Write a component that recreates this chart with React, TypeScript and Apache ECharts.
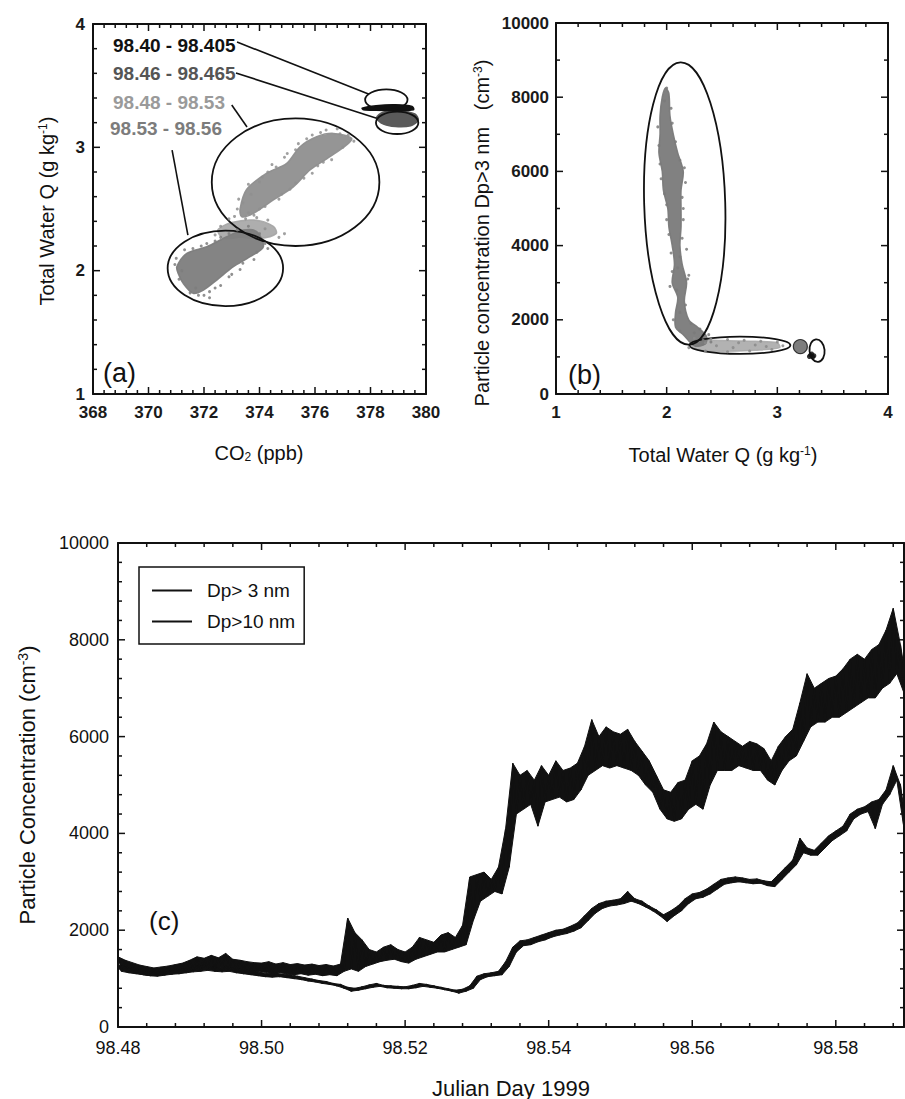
import React, { useEffect, useRef } from "react";
import * as echarts from "echarts";

const FONT = '"Liberation Sans", Arial, Helvetica, sans-serif';
const INK = "#111111";

// ---------------- Panel (a): CO2 vs Total Water Q ----------------
const cloudA_9840: number[][] = [
  [377.7, 3.318], [378.2, 3.338], [378.9, 3.345], [379.5, 3.332], [379.55, 3.305],
  [378.9, 3.298], [378.2, 3.3], [377.75, 3.305],
];
const cloudA_9846: number[][] = [
  [378.22, 3.24], [378.45, 3.285], [379.0, 3.295], [379.6, 3.27], [379.72, 3.22],
  [379.45, 3.175], [378.9, 3.168], [378.45, 3.19],
];
const cloudA_9848: number[][] = [
  [373.3, 2.5], [373.54, 2.66], [374.26, 2.79], [374.98, 2.87], [375.46, 3.005],
  [376.06, 3.086], [376.66, 3.113], [377.32, 3.073], [377.14, 3.02], [376.54, 2.924],
  [375.82, 2.816], [375.22, 2.68], [374.5, 2.573], [373.78, 2.465], [373.36, 2.437],
];
const cloudA_bridge: number[][] = [
  [372.5, 2.33], [373.0, 2.39], [373.8, 2.41], [374.5, 2.36], [374.6, 2.3],
  [374.0, 2.26], [373.3, 2.27], [372.7, 2.26],
];
const cloudA_9853: number[][] = [
  [371.02, 2.032], [371.38, 2.14], [372.1, 2.194], [372.82, 2.275], [373.42, 2.329],
  [373.9, 2.316], [374.14, 2.194], [373.66, 2.113], [373.06, 2.032], [372.46, 1.924],
  [371.98, 1.843], [371.61, 1.816], [371.25, 1.897], [371.07, 1.978],
];
const speckA_9848: number[][] = [
  [373.2, 2.5], [373.4, 2.55], [373.1, 2.44], [373.7, 2.62], [374.0, 2.72], [374.3, 2.8],
  [374.6, 2.84], [374.9, 2.92], [375.3, 2.98], [375.7, 3.07], [376.2, 3.12], [376.9, 3.11],
  [377.4, 3.05], [377.0, 3.0], [376.6, 2.9], [376.1, 2.85], [375.6, 2.75], [375.1, 2.66],
  [374.7, 2.58], [374.2, 2.52], [373.8, 2.45], [373.5, 2.42], [372.9, 2.42], [374.9, 2.3],
  [374.7, 2.27], [372.4, 2.29], [375.9, 3.1], [376.4, 3.14], [373.25, 2.58], [373.6, 2.7],
  [374.1, 2.76], [374.45, 2.86], [375.0, 2.95], [375.4, 3.03], [376.8, 3.15], [377.2, 3.1],
  [376.3, 2.88], [375.9, 2.79], [375.3, 2.71], [374.8, 2.62], [374.0, 2.5], [373.6, 2.47],
  [374.3, 2.41], [373.9, 2.43], [372.6, 2.36], [374.2, 2.34],
];
const speckA_9853: number[][] = [
  [370.95, 2.05], [371.1, 1.93], [371.3, 2.17], [371.5, 1.82], [371.8, 1.8], [372.2, 1.83],
  [372.6, 1.88], [373.0, 1.97], [373.4, 2.06], [373.9, 2.15], [374.2, 2.22], [374.0, 2.3],
  [373.6, 2.36], [372.9, 2.3], [372.4, 2.24], [371.9, 2.2], [371.6, 2.18], [372.2, 1.78],
  [371.0, 2.1], [371.2, 2.0], [371.7, 1.86], [372.0, 1.8], [372.4, 1.86], [372.9, 1.95],
  [373.3, 2.01], [373.8, 2.09], [374.3, 2.18], [373.2, 2.33], [372.6, 2.27], [372.1, 2.22],
];
// ellipses: [cx, cy, rx, ry, rotation]
const ellipsesA: number[][] = [
  [378.57, 3.386, 0.764, 0.0836, 0],
  [378.96, 3.199, 0.764, 0.091, 0],
  [375.3, 2.717, 3.02, 0.517, 0],
  [372.77, 2.019, 2.08, 0.306, 0],
];
// leader lines: [x1, y1, x2, y2]
const leadersA: number[][] = [
  [373.19, 3.854, 377.95, 3.43],
  [373.15, 3.603, 378.22, 3.235],
  [373.0, 3.343, 373.55, 3.165],
  [370.85, 2.978, 371.42, 2.289],
];
const periodLabels = ["98.40 - 98.405", "98.46 - 98.465", "98.48 - 98.53", "98.53 - 98.56"];
const periodColors = ["#111111", "#555555", "#9a9a9a", "#7c7c7c"];

// ---------------- Panel (b): Total Water Q vs particles ----------------
const cloudB_vertical: number[][] = [
  [1.99, 8250], [2.02, 8100], [2.03, 7500], [2.06, 7000], [2.1, 6500], [2.15, 6000],
  [2.13, 5500], [2.13, 5000], [2.13, 4500], [2.12, 4000], [2.14, 3500], [2.18, 3000],
  [2.16, 2500], [2.2, 2000], [2.28, 1800], [2.36, 1550], [2.35, 1350], [2.25, 1300],
  [2.15, 1600], [2.08, 1800], [2.08, 2200], [2.1, 2600], [2.05, 3000], [2.07, 3500],
  [2.05, 4000], [2.02, 4500], [2.01, 5000], [1.97, 5500], [1.96, 6000], [1.93, 6500],
  [1.94, 7000], [1.94, 7500], [1.96, 8000],
];
const cloudB_horizontal: number[][] = [
  [2.25, 1450], [2.5, 1440], [2.8, 1420], [3.0, 1380], [3.02, 1250], [2.8, 1180],
  [2.5, 1150], [2.3, 1180], [2.22, 1300],
];
const speckB_vertical: number[][] = [
  [2.0, 8250], [1.98, 7900], [2.05, 7300], [1.93, 6700], [2.12, 6300], [2.16, 6100],
  [1.95, 5800], [2.14, 5300], [2.0, 5100], [2.15, 4700], [2.02, 4300], [2.18, 3900],
  [2.12, 3700], [2.05, 3300], [2.19, 3100], [2.09, 2800], [2.17, 2400], [2.06, 2000],
  [2.22, 1900], [2.3, 1750], [2.38, 1600], [2.33, 1450], [2.4, 1400], [2.04, 7700],
  [1.92, 7200], [2.08, 6800], [1.94, 6200], [2.17, 5700], [1.98, 5400], [2.15, 5000],
  [2.0, 4700], [2.14, 4200], [2.04, 3800], [2.1, 3400], [2.2, 3200], [2.03, 2900],
  [2.12, 2200], [2.25, 1650], [2.12, 1700],
];
const speckB_horizontal: number[][] = [
  [2.25, 1500], [2.4, 1480], [2.55, 1470], [2.7, 1450], [2.85, 1420], [3.0, 1400],
  [3.05, 1300], [2.95, 1200], [2.75, 1160], [2.55, 1140], [2.35, 1160], [2.2, 1250],
  [2.45, 1300], [2.6, 1250], [2.8, 1320], [2.9, 1280], [2.65, 1380], [2.35, 1380],
];
const markerB_9846: number[][] = [[3.208, 1278]];
const markerB_9840: number[][] = [[3.3, 1050], [3.32, 1000], [3.31, 1080], [3.33, 1030], [3.29, 1010]];
const ellipsesB: number[][] = [
  [2.163, 5135, 0.366, 3806, 0.03],
  [2.662, 1315, 0.456, 234, 0],
  [3.359, 1170, 0.068, 305, 0.1],
];

// ---------------- Panel (c): time series ----------------
const dayStart = 98.48;
const dayStep = 0.0005;
const dp3: number[] = [
  1450, 1200, 1380, 1150, 1330, 1120, 1280, 1080, 1250, 1060,
  1220, 1060, 1240, 1090, 1260, 1100, 1290, 1120, 1320, 1150,
  1380, 1180, 1450, 1200, 1420, 1220, 1480, 1200, 1430, 1250,
  1520, 1220, 1400, 1200, 1380, 1180, 1350, 1150, 1330, 1140,
  1320, 1130, 1350, 1100, 1300, 1120, 1330, 1100, 1290, 1080,
  1310, 1100, 1280, 1070, 1300, 1090, 1270, 1060, 1290, 1080,
  1260, 1060, 1300, 1150, 2250, 1200, 1950, 1150, 1800, 1250,
  1600, 1300, 1550, 1350, 1650, 1380, 1700, 1400, 1600, 1350,
  1550, 1320, 1650, 1400, 1850, 1450, 1800, 1500, 1750, 1550,
  1900, 1550, 1950, 1600, 1850, 1650, 2100, 1700, 3100, 2200,
  3150, 2600, 3200, 2700, 3050, 2800, 3300, 2750, 4100, 3300,
  5450, 4400, 5200, 4500, 5300, 4600, 5100, 4150, 5400, 4650,
  5200, 4700, 5500, 4750, 5300, 4650, 5350, 4700, 5450, 4900,
  5800, 5200, 6350, 5300, 6000, 5400, 6200, 5350, 6100, 5400,
  6050, 5350, 6150, 5300, 5900, 5200, 5700, 5000, 5500, 4850,
  5200, 4500, 4900, 4300, 4850, 4250, 5050, 4300, 5100, 4500,
  5500, 4600, 5600, 4500, 5850, 5000, 6300, 5300, 6100, 5300,
  6000, 5300, 5900, 5400, 5800, 5350, 5900, 5300, 5850, 5300,
  5750, 5100, 5500, 5000, 5800, 5300, 6000, 5500, 6150, 5600,
  6700, 5900, 7300, 6200, 7000, 6300, 7100, 6300, 7200, 6400,
  7250, 6400, 7400, 6500, 7600, 6600, 7700, 6700, 7600, 6800,
  7800, 6800, 7900, 7000, 8200, 7100, 8650, 7300, 7900, 6900,
  7000,
];
const dp10: number[] = [
  1280, 1150, 1250, 1120, 1220, 1100, 1180, 1080, 1150, 1060,
  1130, 1050, 1150, 1070, 1170, 1090, 1180, 1100, 1200, 1120,
  1230, 1140, 1260, 1150, 1280, 1170, 1250, 1150, 1230, 1140,
  1260, 1150, 1220, 1120, 1200, 1100, 1180, 1080, 1150, 1060,
  1120, 1040, 1100, 1030, 1110, 1040, 1090, 1020, 1080, 1000,
  1050, 980, 1020, 950, 990, 930, 960, 900, 940, 880,
  900, 850, 880, 800, 820, 740, 800, 760, 830, 790,
  870, 820, 900, 840, 860, 810, 850, 800, 840, 790,
  830, 790, 860, 810, 900, 840, 880, 820, 850, 800,
  820, 770, 790, 740, 760, 700, 780, 740, 850, 800,
  1050, 980, 1100, 1040, 1120, 1060, 1150, 1080, 1350, 1250,
  1650, 1550, 1780, 1680, 1800, 1700, 1850, 1760, 1900, 1800,
  1950, 1860, 2000, 1900, 2020, 1930, 2080, 1980, 2150, 2050,
  2300, 2200, 2450, 2350, 2550, 2450, 2600, 2500, 2620, 2520,
  2650, 2550, 2800, 2600, 2650, 2550, 2600, 2480, 2500, 2400,
  2420, 2300, 2320, 2180, 2400, 2300, 2500, 2400, 2650, 2550,
  2750, 2650, 2780, 2680, 2850, 2750, 2950, 2850, 3050, 2950,
  3080, 2980, 3100, 3000, 3080, 2980, 3050, 2960, 3060, 2970,
  3020, 2920, 3000, 2900, 3150, 3050, 3300, 3200, 3450, 3350,
  3900, 3600, 3700, 3550, 3650, 3550, 3800, 3700, 3950, 3850,
  4050, 3950, 4150, 4050, 4400, 4300, 4500, 4400, 4550, 4450,
  4650, 4100, 4700, 4600, 4900, 4800, 5400, 5100, 5000, 4100,
  4000,
];
const seriesNames = ["Dp> 3 nm", "Dp>10 nm"];

// axis definitions: [min, max, majorInterval, minorSplit]
const axisA_x = [368, 380, 2, 5];
const axisA_y = [1, 4, 1, 5];
const axisB_x = [1, 4, 1, 5];
const axisB_y = [0, 10000, 2000, 2];
const axisC_x = [98.48, 98.5895, 0.02, 5];
const axisC_y = [0, 10000, 2000, 5];

// ---------------- helpers ----------------
function axis(gridIndex: number, position: string, def: number[], label: any) {
  const [min, max, interval] = def;
  return {
    type: "value",
    gridIndex,
    position,
    min,
    max,
    interval,
    axisLine: { show: true, onZero: false, lineStyle: { color: INK, width: 2 } },
    axisTick: { show: false },
    minorTick: { show: false },
    splitLine: { show: false },
    minorSplitLine: { show: false },
    axisLabel: label ? { show: true, ...label } : { show: false },
  };
}

// inward tick marks on all four sides of a frame, placed through the axes' scales
function tickSeries(xi: number, yi: number, xd: number[], yd: number[]) {
  const items: number[][] = [];
  const MAJ = 7;
  const MIN = 4;
  const walk = (d: number[], fn: (v: number, len: number) => void) => {
    const [min, max, int, split] = d;
    const step = int / split;
    const n = Math.floor((max - min) / step + 1e-6);
    for (let k = 0; k <= n; k++) {
      const v = min + k * step;
      fn(v, k % split === 0 ? MAJ : MIN);
    }
  };
  walk(xd, (v, L) => {
    items.push([v, yd[0], 0, -L]);
    items.push([v, yd[1], 0, L]);
  });
  walk(yd, (v, L) => {
    items.push([xd[0], v, L, 0]);
    items.push([xd[1], v, -L, 0]);
  });
  return {
    type: "custom",
    xAxisIndex: xi,
    yAxisIndex: yi,
    silent: true,
    z: 5,
    data: items,
    renderItem: (_p: any, api: any) => {
      const p = api.coord([api.value(0), api.value(1)]);
      return {
        type: "line",
        shape: { x1: p[0], y1: p[1], x2: p[0] + api.value(2), y2: p[1] + api.value(3) },
        style: { stroke: INK, lineWidth: 1.5 },
      };
    },
  };
}

function polygonSeries(pts: number[][], color: string, xi: number, yi: number, opacity = 1) {
  return {
    type: "custom",
    xAxisIndex: xi,
    yAxisIndex: yi,
    silent: true,
    data: [pts[0]],
    renderItem: (_p: any, api: any) => ({
      type: "polygon",
      shape: { points: pts.map((p) => api.coord(p)), smooth: 0.3 },
      style: { fill: color, stroke: color, lineWidth: 1.5, opacity },
    }),
  };
}

// dense noisy band: alternate samples form upper / lower edges
function bandSeries(vals: number[]) {
  return {
    type: "custom",
    xAxisIndex: 4,
    yAxisIndex: 4,
    silent: true,
    clip: true,
    data: [[dayStart, vals[0]]],
    renderItem: (_p: any, api: any) => {
      const top: number[][] = [];
      const bot: number[][] = [];
      vals.forEach((v, i) => {
        const pt = api.coord([dayStart + i * dayStep, v]);
        (i % 2 === 0 ? top : bot).push(pt);
      });
      return {
        type: "polygon",
        shape: { points: top.concat(bot.reverse()) },
        style: { fill: INK, stroke: INK, lineWidth: 1 },
      };
    },
  };
}

function ellipseSeries(list: number[][], xi: number, yi: number) {
  return {
    type: "custom",
    xAxisIndex: xi,
    yAxisIndex: yi,
    silent: true,
    data: list,
    renderItem: (_p: any, api: any) => {
      const c = api.coord([api.value(0), api.value(1)]);
      const s = api.size([api.value(2), api.value(3)]);
      return {
        type: "ellipse",
        x: c[0],
        y: c[1],
        rotation: api.value(4),
        shape: { cx: 0, cy: 0, rx: s[0], ry: s[1] },
        style: { fill: "none", stroke: INK, lineWidth: 1.8 },
      };
    },
  };
}

function segmentSeries(list: number[][], xi: number, yi: number) {
  return {
    type: "custom",
    xAxisIndex: xi,
    yAxisIndex: yi,
    silent: true,
    data: list,
    renderItem: (_p: any, api: any) => {
      const a = api.coord([api.value(0), api.value(1)]);
      const b = api.coord([api.value(2), api.value(3)]);
      return {
        type: "line",
        shape: { x1: a[0], y1: a[1], x2: b[0], y2: b[1] },
        style: { stroke: INK, lineWidth: 1.6 },
      };
    },
  };
}

function dots(pts: number[][], color: string, xi: number, yi: number, size = 3) {
  return {
    type: "scatter",
    xAxisIndex: xi,
    yAxisIndex: yi,
    silent: true,
    symbol: "circle",
    symbolSize: size,
    itemStyle: { color, opacity: 0.85 },
    data: pts,
  };
}

function text(x: number, y: number, t: string, fontSize: number, opts: any = {}) {
  return {
    type: "text",
    x,
    y,
    rotation: opts.rotation || 0,
    silent: true,
    style: {
      text: t,
      fontSize,
      fontFamily: FONT,
      fontWeight: opts.bold ? "bold" : "normal",
      fill: opts.color || INK,
      align: opts.align || "center",
      verticalAlign: "middle",
      rich: {
        sup: { fontSize: Math.round(fontSize * 0.62), fontFamily: FONT, fill: INK, verticalAlign: "top" },
        sub: { fontSize: Math.round(fontSize * 0.62), fontFamily: FONT, fill: INK, verticalAlign: "bottom" },
      },
    },
  };
}

const tickLabAB = { fontSize: 17, fontWeight: "bold", color: "#1a1a1a", fontFamily: FONT };
const tickLabC = { fontSize: 18, color: INK, fontFamily: FONT };

export default function App() {
  const ref = useRef<HTMLDivElement>(null);
  useEffect(() => {
    document.body.style.margin = "0";
    if (!ref.current) return;
    const chart = echarts.init(ref.current, undefined, { renderer: "svg" });

    const lineC = (vals: number[], name: string, width: number) => ({
      type: "line",
      name,
      xAxisIndex: 4,
      yAxisIndex: 4,
      symbol: "none",
      showSymbol: false,
      silent: true,
      lineStyle: { color: INK, width },
      itemStyle: { color: INK },
      data: vals.map((v, i) => [dayStart + i * dayStep, v]),
    });

    const str = (v: number) => String(v);
    const option: any = {
      animation: false,
      backgroundColor: "#ffffff",
      grid: [
        { left: 93, top: 24, width: 333, height: 370 },
        { left: 556, top: 23, width: 332, height: 371 },
        { left: 118, top: 543, width: 786, height: 484 },
      ],
      xAxis: [
        axis(0, "bottom", axisA_x, { ...tickLabAB, margin: 10, formatter: str }),
        axis(0, "top", axisA_x, null),
        axis(1, "bottom", axisB_x, { ...tickLabAB, margin: 10, formatter: str }),
        axis(1, "top", axisB_x, null),
        axis(2, "bottom", axisC_x, {
          ...tickLabC,
          margin: 12,
          showMaxLabel: false,
          formatter: (v: number) => v.toFixed(2),
        }),
        axis(2, "top", axisC_x, null),
      ],
      yAxis: [
        axis(0, "left", axisA_y, { ...tickLabAB, margin: 8, formatter: str }),
        axis(0, "right", axisA_y, null),
        axis(1, "left", axisB_y, { ...tickLabAB, margin: 7, formatter: str }),
        axis(1, "right", axisB_y, null),
        axis(2, "left", axisC_y, { ...tickLabC, margin: 9, formatter: str }),
        axis(2, "right", axisC_y, null),
      ],
      legend: {
        data: seriesNames,
        orient: "vertical",
        left: 139,
        top: 567,
        selectedMode: false,
        icon: "rect",
        borderColor: INK,
        borderWidth: 1.5,
        borderRadius: 0,
        padding: [14, 9, 13, 13],
        itemGap: 12,
        itemWidth: 40,
        itemHeight: 2,
        textStyle: { fontSize: 19, fontFamily: FONT, color: INK, padding: [0, 0, 0, 10] },
      },
      series: [
        // frames' tick marks
        tickSeries(0, 0, axisA_x, axisA_y),
        tickSeries(2, 2, axisB_x, axisB_y),
        tickSeries(4, 4, axisC_x, axisC_y),
        // (a)
        polygonSeries(cloudA_9848, "#8f8f8f", 0, 0, 0.95),
        polygonSeries(cloudA_bridge, "#a5a5a5", 0, 0, 0.9),
        polygonSeries(cloudA_9853, "#7d7d7d", 0, 0, 0.95),
        polygonSeries(cloudA_9846, "#5a5a5a", 0, 0, 1),
        polygonSeries(cloudA_9840, "#111111", 0, 0, 1),
        dots(speckA_9848, "#8f8f8f", 0, 0, 3),
        dots(speckA_9853, "#7d7d7d", 0, 0, 3),
        ellipseSeries(ellipsesA, 0, 0),
        segmentSeries(leadersA, 0, 0),
        // (b)
        polygonSeries(cloudB_horizontal, "#aaaaaa", 2, 2, 0.9),
        polygonSeries(cloudB_vertical, "#7a7a7a", 2, 2, 0.95),
        dots(speckB_vertical, "#7a7a7a", 2, 2, 3),
        dots(speckB_horizontal, "#8a8a8a", 2, 2, 3),
        {
          type: "scatter",
          xAxisIndex: 2,
          yAxisIndex: 2,
          silent: true,
          symbolSize: 14,
          itemStyle: { color: "#5c5c5c", borderColor: INK, borderWidth: 1.2 },
          data: markerB_9846,
        },
        dots(markerB_9840, "#111111", 2, 2, 5),
        ellipseSeries(ellipsesB, 2, 2),
        // (c)
        bandSeries(dp3),
        bandSeries(dp10),
        lineC(dp3, seriesNames[0], 1.3),
        lineC(dp10, seriesNames[1], 1.3),
      ],
      graphic: [
        // period labels in (a)
        text(113, 45, periodLabels[0], 19, { bold: true, color: periodColors[0], align: "left" }),
        text(113, 73, periodLabels[1], 19, { bold: true, color: periodColors[1], align: "left" }),
        text(113, 102, periodLabels[2], 19, { bold: true, color: periodColors[2], align: "left" }),
        text(110, 128, periodLabels[3], 19, { bold: true, color: periodColors[3], align: "left" }),
        // panel tags
        text(103, 373, "(a)", 27, { align: "left" }),
        text(568, 375, "(b)", 27, { align: "left" }),
        text(149, 921, "(c)", 26, { align: "left" }),
        // axis titles
        text(259, 453, "CO{sub|2} (ppb)", 20),
        text(47, 211, "Total Water Q (g kg{sup|-1})", 20, { rotation: Math.PI / 2 }),
        text(723, 455, "Total Water Q (g kg{sup|-1})", 20),
        text(482, 233, "Particle concentration Dp>3 nm   (cm{sup|-3})", 20, { rotation: Math.PI / 2 }),
        text(511, 1088, "Julian Day 1999", 22),
        text(27, 785, "Particle Concentration (cm{sup|-3})", 22, { rotation: Math.PI / 2 }),
      ],
    };
    chart.setOption(option);
    return () => chart.dispose();
  }, []);
  return <div ref={ref} style={{ width: 905, height: 1099, background: "#fff" }} />;
}
